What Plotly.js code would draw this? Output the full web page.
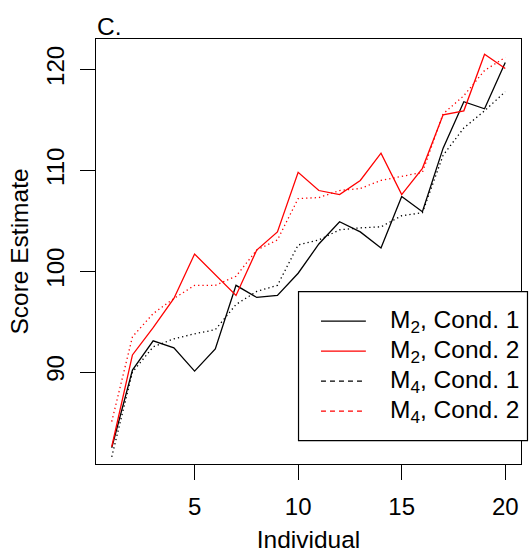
<!DOCTYPE html>
<html>
<head>
<meta charset="utf-8">
<script src="https://cdn.plot.ly/plotly-3.0.1.min.js"></script>
<style>
  html, body { margin: 0; padding: 0; background: #fff; }
  #chart { width: 530px; height: 558px; }
</style>
</head>
<body>
<div id="chart"></div>
<script>
// ---- data ----
const individual = [1, 2, 3, 4, 5, 6, 7, 8, 9, 10, 11, 12, 13, 14, 15, 16, 17, 18, 19, 20];
const m2Cond1 = [82.5, 90.2, 93.1, 92.4, 90.1, 92.3, 98.6, 97.4, 97.6, 99.8, 102.7, 104.9, 103.9, 102.3, 107.4, 105.9, 112.2, 116.8, 116.1, 120.7];
const m2Cond2 = [82.6, 91.7, 94.4, 97.3, 101.7, 99.6, 97.6, 102.1, 103.9, 109.8, 108.0, 107.6, 109.0, 111.7, 107.6, 110.2, 115.5, 115.9, 121.5, 120.1];
const m4Cond1 = [81.6, 90.0, 92.5, 93.3, 93.8, 94.2, 96.7, 98.0, 98.6, 102.6, 103.1, 104.1, 104.3, 104.4, 105.5, 105.8, 111.5, 114.2, 115.9, 117.8];
const m4Cond2 = [85.1, 93.5, 95.8, 97.3, 98.6, 98.6, 99.5, 102.1, 103.1, 107.2, 107.3, 108.0, 108.2, 109.0, 109.4, 109.8, 115.6, 117.4, 119.9, 121.2];
const seriesNames = ["M<sub>2</sub>, Cond. 1", "M<sub>2</sub>, Cond. 2", "M<sub>4</sub>, Cond. 1", "M<sub>4</sub>, Cond. 2"];
const xTicks = [5, 10, 15, 20];
const yTicks = [90, 100, 110, 120];
const panelTitle = "C.";
const xTitle = "Individual";
const yTitle = "Score Estimate";

// ---- styling ----
const FONT = "Liberation Sans, Arial, Helvetica, sans-serif";
const W = 530, H = 558;
const M = { l: 95.5, r: 8.5, t: 38.5, b: 94 };
const plotW = W - M.l - M.r, plotH = H - M.t - M.b;
const px = x => (x - M.l) / plotW;          // pixel -> paper x
const py = y => (H - M.b - y) / plotH;      // pixel -> paper y

const styles = [
  { color: "#000000", dash: "solid", legendDash: "solid", width: 1.3 },
  { color: "#ff0000", dash: "solid", legendDash: "solid", width: 1.3 },
  { color: "#000000", dash: "1.3px,3px", legendDash: "5px,4px", width: 1.3 },
  { color: "#ff0000", dash: "1.3px,3px", legendDash: "5px,4px", width: 1.3 }
];
const values = [m2Cond1, m2Cond2, m4Cond1, m4Cond2];

const traces = values.map((v, k) => ({
  x: individual, y: v, type: "scatter", mode: "lines",
  name: seriesNames[k], showlegend: false,
  line: { color: styles[k].color, width: styles[k].width, dash: styles[k].dash }
}));

// ---- hand-drawn R-style legend ----
const legL = 298.5, legR = 528, legT = 291.5, legB = 440.5;
const rowY = [321, 351, 381, 411];
const shapes = [{
  type: "rect", xref: "paper", yref: "paper",
  x0: px(legL), x1: px(legR), y0: py(legB), y1: py(legT),
  fillcolor: "#ffffff", line: { color: "#000000", width: 1.2 }, layer: "above"
}];
const annotations = [];
seriesNames.forEach((nm, k) => {
  shapes.push({
    type: "line", xref: "paper", yref: "paper", layer: "above",
    x0: px(321), x1: px(366), y0: py(rowY[k]), y1: py(rowY[k]),
    line: { color: styles[k].color, width: 1.2, dash: styles[k].legendDash }
  });
  annotations.push({
    xref: "paper", yref: "paper", x: px(388), y: py(rowY[k]),
    xanchor: "left", yanchor: "middle", showarrow: false,
    text: nm, font: { family: FONT, size: 24.5, color: "#000" }
  });
});
annotations.push({
  xref: "paper", yref: "paper", x: px(94), y: 1, xanchor: "left", yanchor: "bottom",
  yshift: -3, showarrow: false, text: panelTitle,
  font: { family: FONT, size: 24.5, color: "#000" }
});

const axisCommon = {
  showgrid: false, zeroline: false, showline: true, mirror: true,
  linecolor: "#000", linewidth: 1.2, ticks: "outside", ticklen: 15,
  tickwidth: 1.2, tickcolor: "#000",
  tickfont: { family: FONT, size: 24, color: "#000" }
};

const layout = {
  width: W, height: H, margin: M,
  paper_bgcolor: "#fff", plot_bgcolor: "#fff",
  showlegend: false,
  xaxis: Object.assign({}, axisCommon, {
    range: [0.24, 20.76], tickmode: "array", tickvals: xTicks,
    ticktext: xTicks.map(String), ticklabelstandoff: 6,
    title: { text: xTitle, standoff: 11, font: { family: FONT, size: 24.5, color: "#000" } }
  }),
  yaxis: Object.assign({}, axisCommon, {
    range: [80.89, 123.02], tickmode: "array", tickvals: yTicks,
    ticktext: yTicks.map(String), tickangle: -90, ticklabelstandoff: 6,
    title: { text: yTitle, standoff: 6, font: { family: FONT, size: 24.5, color: "#000" } }
  }),
  shapes: shapes,
  annotations: annotations
};

Plotly.newPlot("chart", traces, layout, { staticPlot: true, displayModeBar: false });
</script>
</body>
</html>
